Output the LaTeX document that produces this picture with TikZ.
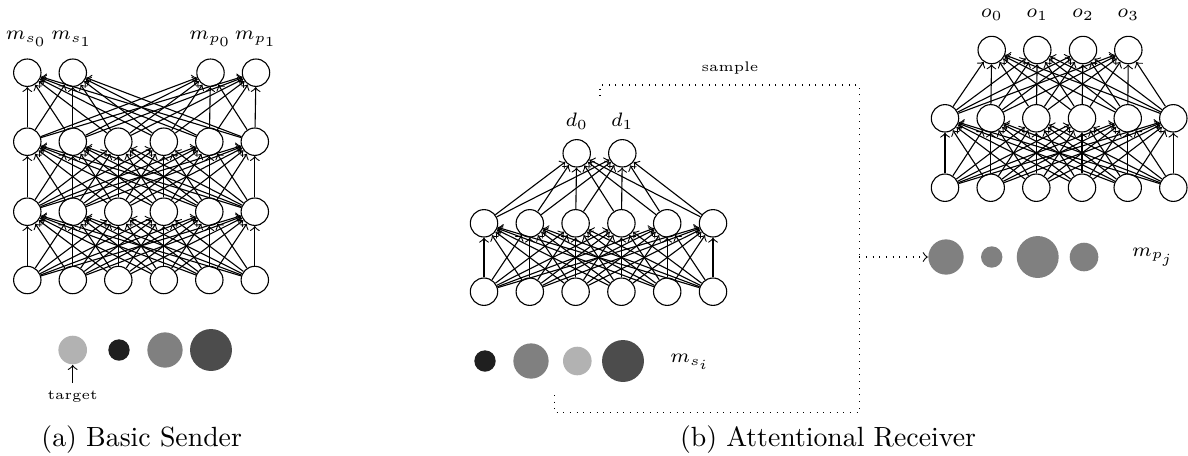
\documentclass[tikz,border=0pt]{standalone}
\begin{document}
\begin{tikzpicture}[x=0.36pt,y=-0.36pt,
  neuron/.style={circle,draw,line width=0.4pt,minimum size=9.86pt,inner sep=0pt},
  conn/.style={->,line width=0.4pt},
  blob/.style={circle,inner sep=0pt,minimum size=#1},
  lbl/.style={inner sep=0pt,font=\scriptsize},
  tinylbl/.style={inner sep=0pt,font=\tiny},
  captxt/.style={inner sep=0pt,font=\normalsize}]
\useasboundingbox (0,0) rectangle (1188,455);
\definecolor{lightg}{gray}{0.70}
\definecolor{blackg}{gray}{0.12}
\definecolor{midg}{gray}{0.50}
\definecolor{darkg}{gray}{0.30}

% ---------- (a) Basic Sender ----------
\foreach \i/\x in {1/27.3,2/72.8,3/118.3,4/163.8,5/209.3,6/254.8}{
  \node[neuron] (La\i) at (\x,280) {};
  \node[neuron] (Lb\i) at (\x,211.7) {};
  \node[neuron] (Lc\i) at (\x,141.7) {};
}
\foreach \i/\x in {1/27.3,2/72.8,3/210.5,4/256}{
  \node[neuron] (Ld\i) at (\x,72.7) {};
}
\node[lbl] (Lt1) at (26.5,39) {$m_{s_0}$};
\node[lbl] (Lt2) at (72,39) {$m_{s_1}$};
\node[lbl] (Lt3) at (210.5,39) {$m_{p_0}$};
\node[lbl] (Lt4) at (256,39) {$m_{p_1}$};
\foreach \i in {1,...,6}{
  \foreach \j in {1,...,6}{
    \draw[conn] (La\i) -- (Lb\j);
    \draw[conn] (Lb\i) -- (Lc\j);
  }
  \foreach \j in {1,...,4}{
    \draw[conn] (Lc\i) -- (Ld\j);
  }
}
\node[blob=10.3pt,fill=lightg] (Lp1) at (72.7,350) {};
\node[blob=7.7pt,fill=blackg] (Lp2) at (119,350) {};
\node[blob=12.7pt,fill=midg] (Lp3) at (165,350) {};
\node[blob=15.1pt,fill=darkg] (Lp4) at (211,350) {};
\node[tinylbl] (Ltarget) at (72.7,397) {target};
\coordinate (LtgA) at (72.7,383);
\draw[conn] (LtgA) -- (Lp1.south);
\node[captxt] (Lcap) at (141.7,439.5) {(a) Basic Sender};

% ---------- (b) Attentional Receiver: middle ----------
\foreach \i/\x in {1/484,2/529.8,3/575.6,4/621.4,5/667.2,6/713}{
  \node[neuron] (Ma\i) at (\x,291.7) {};
  \node[neuron] (Mb\i) at (\x,223.3) {};
}
\node[neuron] (Mc1) at (576.7,153.3) {};
\node[neuron] (Mc2) at (622.3,153.3) {};
\node[lbl] (Mt1) at (576.7,121) {$d_0$};
\node[lbl] (Mt2) at (622.3,121) {$d_1$};
\foreach \i in {1,...,6}{
  \foreach \j in {1,...,6}{
    \draw[conn] (Ma\i) -- (Mb\j);
  }
  \foreach \j in {1,2}{
    \draw[conn] (Mb\i) -- (Mc\j);
  }
}
\node[blob=7.7pt,fill=blackg] (Mp1) at (485,361) {};
\node[blob=12.7pt,fill=midg] (Mp2) at (531,361) {};
\node[blob=10.3pt,fill=lightg] (Mp3) at (577.3,361) {};
\node[blob=15.1pt,fill=darkg] (Mp4) at (623,361) {};
\node[lbl] (Mmsi) at (690,361.7) {$m_{s_i}$};

% ---------- right network ----------
\foreach \i/\x in {1/945,2/990.7,3/1036.3,4/1082,5/1127.7,6/1173.3}{
  \node[neuron] (Ra\i) at (\x,187.7) {};
  \node[neuron] (Rb\i) at (\x,118.3) {};
}
\foreach \i/\x in {1/991.7,2/1037.3,3/1083,4/1128.3}{
  \node[neuron] (Rc\i) at (\x,50) {};
}
\node[lbl] (Rt1) at (991.7,15) {$o_0$};
\node[lbl] (Rt2) at (1037.3,15) {$o_1$};
\node[lbl] (Rt3) at (1083,15) {$o_2$};
\node[lbl] (Rt4) at (1128.3,15) {$o_3$};
\foreach \i in {1,...,6}{
  \foreach \j in {1,...,6}{
    \draw[conn] (Ra\i) -- (Rb\j);
  }
  \foreach \j in {1,...,4}{
    \draw[conn] (Rb\i) -- (Rc\j);
  }
}
\node[blob=12.7pt,fill=midg] (Rp1) at (946,257) {};
\node[blob=7.7pt,fill=midg] (Rp2) at (991.7,257) {};
\node[blob=15.1pt,fill=midg] (Rp3) at (1037.7,257) {};
\node[blob=10.3pt,fill=midg] (Rp4) at (1084,257) {};
\node[lbl] (Rmpj) at (1153,257) {$m_{p_j}$};

% ---------- sample loop ----------
\coordinate (S0) at (554.3,395);
\coordinate (S1) at (554.3,412.7);
\coordinate (S2) at (859.3,412.7);
\coordinate (S3) at (859.3,85);
\coordinate (S4) at (600,85);
\coordinate (S5) at (600,101.7);
\coordinate (S6) at (859.3,257);
\draw[dotted,line width=0.4pt] (S0) -- (S1) -- (S2) -- (S3) -- (S4) -- (S5);
\draw[dotted,->,line width=0.4pt] (S6) -- (Rp1.west);
\node[tinylbl] (Msample) at (730,68.3) {sample};
\node[captxt] (Mcap) at (828,439.5) {(b) Attentional Receiver};
\end{tikzpicture}
\end{document}
